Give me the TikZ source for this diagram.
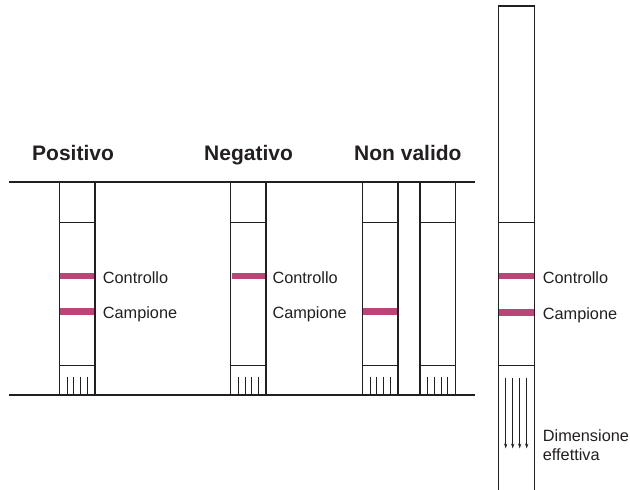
\documentclass[tikz,border=0pt]{standalone}
\usepackage{fontspec}
\setmainfont{Liberation Sans}
\usetikzlibrary{arrows.meta}
\definecolor{band}{RGB}{185,70,118}
\definecolor{ink}{RGB}{35,31,32}
\tikzset{
  stripline/.style={draw=ink, line width=1.5pt},
  baseline/.style={draw=ink, line width=2pt},
  tick/.style={draw=ink, line width=1.1pt},
  bandline/.style={draw=band, line width=6.7pt},
  flow/.style={draw=ink, line width=0.9pt, -{Stealth[length=5pt,width=3.2pt]}},
  title/.style={anchor=base west, inner sep=0pt, font=\fontsize{21}{25}\selectfont\bfseries, text=ink},
  lbl/.style={anchor=base west, inner sep=0pt, font=\fontsize{16.3}{18.5}\selectfont, text=ink}
}
\newcommand{\teststrip}[1]{%
  \draw[stripline] (#1,181.7) rectangle (#1+35.5,395);
  \draw[stripline] (#1,222.3) -- (#1+35.5,222.3);
  \draw[stripline] (#1,365.3) -- (#1+35.5,365.3);
  \foreach \dx in {7.7,14.4,21.1,27.8}
    \draw[tick] (#1+\dx,376.7) -- (#1+\dx,395);
}
\begin{document}
\begin{tikzpicture}[x=1pt,y=-1pt]
\useasboundingbox (0,0) rectangle (630,490);
% titles
\node[title] (tpos) at (32,160.5) {Positivo};
\node[title] (tneg) at (204,160.5) {Negativo};
\node[title] (tnv) at (354,160.5) {Non valido};
% strips
\teststrip{59.5}
\teststrip{230.7}
\teststrip{362.5}
\teststrip{420}
% bands
\draw[bandline] (60.3,276) -- (94.2,276);
\draw[bandline] (60.3,311.7) -- (94.2,311.7);
\draw[bandline] (231.5,276) -- (265.4,276);
\draw[bandline] (363.3,311.7) -- (397.2,311.7);
% horizontal lines
\draw[baseline] (9,181.7) -- (475,181.7);
\draw[baseline] (9,395) -- (475,395);
% labels
\node[lbl] (c1) at (102.7,283.3) {Controllo};
\node[lbl] (s1) at (102.7,318.8) {Campione};
\node[lbl] (c2) at (272.3,283.3) {Controllo};
\node[lbl] (s2) at (272.3,318.8) {Campione};
% big strip
\draw[stripline] (498.3,495) -- (498.3,6) -- (534.3,6) -- (534.3,495);
\draw[stripline] (498.3,222.3) -- (534.3,222.3);
\draw[stripline] (498.3,365.7) -- (534.3,365.7);
\draw[bandline] (499.1,276) -- (533.5,276);
\draw[bandline] (499.1,312.3) -- (533.5,312.3);
\foreach \ax in {505.7,512.7,519.7,526.7}
  \draw[flow] (\ax,377.7) -- (\ax,448.5);
\node[lbl] (c5) at (542.7,283.3) {Controllo};
\node[lbl] (s5) at (542.7,319.2) {Campione};
\node[lbl, align=left, anchor=base west] (dim) at (542.7,460) {Dimensione\\effettiva};
\end{tikzpicture}
\end{document}
